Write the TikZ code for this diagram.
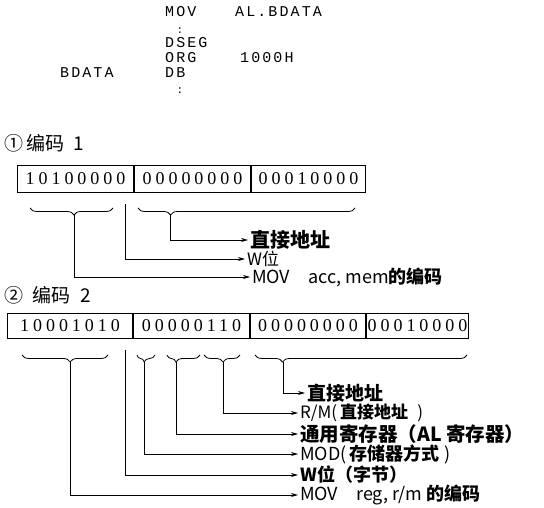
\documentclass[tikz,border=0pt]{standalone}
\usepackage{fontspec}
\setmainfont{Liberation Serif}
\newfontfamily\cjk{Noto Sans CJK SC}
\newfontfamily\codefont[LetterSpace=14]{Liberation Mono}
\newfontfamily\bitfont[LetterSpace=22]{Liberation Serif}
\usetikzlibrary{decorations.pathreplacing,arrows.meta}

\tikzset{
  code/.style={anchor=base west, inner sep=0pt, font=\codefont\fontsize{15}{15}\selectfont},
  codedots/.style={inner sep=0pt, font=\codefont\fontsize{11}{11}\selectfont},
  cell/.style={draw, line width=1pt, minimum height=27pt, inner sep=0pt, anchor=north west,
    font=\bitfont\fontsize{18}{18}\selectfont},
  lbl/.style={anchor=west, inner sep=2pt, font=\cjk\fontsize{17}{17}\selectfont},
  hbrace/.style={decorate, decoration={brace, mirror, amplitude=7pt, aspect=#1}, line width=0.8pt},
  hbrace/.default=0.5,
  lead/.style={->, >={Stealth[length=7pt,width=4pt]}, line width=0.7pt},
}

\begin{document}
\begin{tikzpicture}[x=1pt, y=-1pt]
\useasboundingbox (0,0) rectangle (544,508);

% source lines
\node[code] (mov) at (165,17) {MOV};
\node[code] (movarg) at (235,17) {AL.BDATA};
\node[codedots] (dots1) at (180,31) {:};
\node[code] (dseg) at (165,48) {DSEG};
\node[code] (org) at (165,63) {ORG};
\node[code] (orgarg) at (240,63) {1000H};
\node[code] (bdata) at (60,78) {BDATA};
\node[code] (db) at (165,78) {DB};
\node[codedots] (dots2) at (180,91) {:};

% encoding 1
\node[lbl, font=\cjk\fontsize{19}{19}\selectfont] (head1) at (2,143) {①\,编码\; 1};
\node[cell, minimum width=116pt] (c1a) at (17,165) {10100000};
\node[cell, minimum width=116pt] (c1b) at (c1a.north east) {00000000};
\node[cell, minimum width=114pt] (c1c) at (c1b.north east) {00010000};

\draw[hbrace=0.53] (30,208) -- (113,208);
\draw[hbrace=0.15] (138,208) -- (355,208);
\coordinate (t1op) at (74,215);
\coordinate (t1w) at (125,204);
\coordinate (t1addr) at (170,215);

\node[lbl, font=\cjk\bfseries\fontsize{20}{20}\selectfont] (l1addr) at (248,240) {直接地址};
\node[lbl] (l1w) at (245,259) {W位};
\node[lbl, font=\cjk\fontsize{18}{18}\selectfont] (l1op) at (250,277) {MOV\quad acc, mem\textbf{的编码}};

\draw[lead] (t1addr) |- (l1addr.west);
\draw[lead] (t1w) |- (l1w.west);
\draw[lead] (t1op) |- (l1op.west);

% encoding 2
\node[lbl, font=\cjk\fontsize{19}{19}\selectfont] (head2) at (2,295) {②\; 编码\; 2};
\node[cell, minimum width=125pt, minimum height=25pt] (c2a) at (7,313) {10001010};
\node[cell, minimum width=116pt, minimum height=25pt] (c2b) at (c2a.north east) {00000110};
\node[cell, minimum width=115pt, minimum height=25pt] (c2c) at (c2b.north east) {00000000};
\node[cell, minimum width=102pt, minimum height=25pt] (c2d) at (c2c.north east) {00010000};

\draw[hbrace=0.56] (22,355) -- (108,355);
\draw[hbrace=0.4] (137,355) -- (155,355);
\draw[hbrace=0.27] (167,355) -- (200,355);
\draw[hbrace=0.53] (204,355) -- (240,355);
\draw[hbrace=0.13] (255,355) -- (467,355);
\coordinate (t2op) at (70,362);
\coordinate (t2w) at (125,350);
\coordinate (t2mod) at (144,362);
\coordinate (t2reg) at (176,362);
\coordinate (t2rm) at (223,362);
\coordinate (t2addr) at (283,362);

\node[lbl, font=\cjk\bfseries\fontsize{19}{19}\selectfont] (l2addr) at (305,393) {直接地址};
\node[lbl] (l2rm) at (298,413) {R/M(\,\textbf{直接地址}\;\;)};
\node[lbl, font=\cjk\bfseries\fontsize{19.5}{19.5}\selectfont] (l2reg) at (298,434) {通用寄存器（AL 寄存器）};
\node[lbl, font=\cjk\fontsize{18}{18}\selectfont] (l2mod) at (298,454) {MOD(\,\textbf{存储器方式}\;)};
\node[lbl, font=\cjk\bfseries\fontsize{18}{18}\selectfont] (l2w) at (298,475) {W位（字节）};
\node[lbl, font=\cjk\fontsize{18}{18}\selectfont] (l2op) at (298,495) {MOV\quad reg, r/m \textbf{的编码}};

\draw[lead] (t2addr) |- (l2addr.west);
\draw[lead] (t2rm) |- (l2rm.west);
\draw[lead] (t2reg) |- (l2reg.west);
\draw[lead] (t2mod) |- (l2mod.west);
\draw[lead] (t2w) |- (l2w.west);
\draw[lead] (t2op) |- (l2op.west);
\end{tikzpicture}
\end{document}
